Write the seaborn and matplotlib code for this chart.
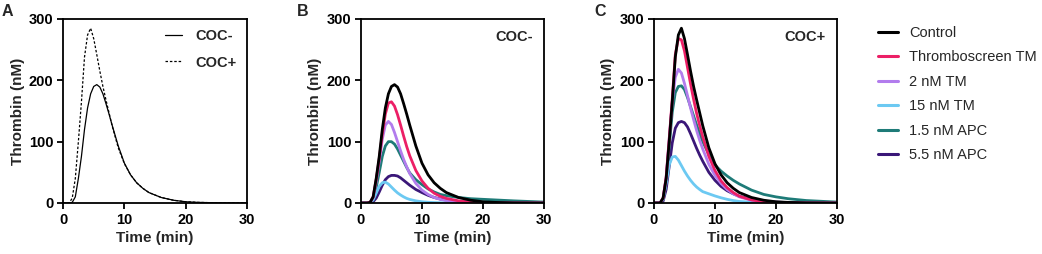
import matplotlib
matplotlib.use("Agg")
import matplotlib.pyplot as plt
import pandas as pd
import seaborn as sns
from matplotlib.lines import Line2D

# time points (min)
TIME = [0, 1, 1.5, 2, 2.5, 3, 3.5, 4, 4.5, 5, 5.5, 6, 6.5, 7, 7.5, 8,
        9, 10, 11, 12, 13, 14, 16, 18, 20, 22, 25, 30]

CONDITIONS = ["Control", "Thromboscreen TM", "2 nM TM", "15 nM TM",
              "1.5 nM APC", "5.5 nM APC"]
COLORS = ["#000000", "#ec1f66", "#b27ced", "#6cc9f2", "#1e7b78", "#3a1778"]

# COC- thrombin (nM)
COC_MINUS = {
    "Control": [0, 0, 1, 10, 40, 76, 120, 155, 178, 190, 193, 189, 178, 162, 145, 127,
                93, 65, 46, 33, 24, 17, 9, 4.5, 2, 1, 0.3, 0],
    "Thromboscreen TM": [0, 0, 1, 10, 38, 72, 112, 145, 163, 165, 158, 144, 127, 109, 92, 77,
                         53, 36, 24, 16, 11, 7.5, 3.5, 1.5, 0.7, 0.3, 0.1, 0],
    "2 nM TM": [0, 0, 1, 9, 35, 68, 104, 127, 133, 128, 115, 100, 85, 71, 59, 48,
                32, 21, 14, 9, 6, 4, 2, 1, 0.5, 0.2, 0, 0],
    "15 nM TM": [0, 0, 0.5, 5, 16, 27, 33, 34, 31, 26, 21, 16.5, 13, 10, 7.5, 5.8,
                 3.5, 2, 1.2, 0.7, 0.4, 0.2, 0, 0, 0, 0, 0, 0],
    "1.5 nM APC": [0, 0, 0.5, 6, 25, 50, 76, 93, 100, 100, 96, 88, 78, 68, 58, 49,
                   38, 30, 23, 18, 14, 12, 9, 7, 6, 5, 3.5, 1.5],
    "5.5 nM APC": [0, 0, 0, 2, 8, 18, 29, 38, 43, 45, 45, 44, 41, 37, 33, 29,
                   22, 17, 12.5, 9, 6.5, 4.5, 2.5, 1.3, 0.7, 0.3, 0.1, 0],
}

# COC+ thrombin (nM)
COC_PLUS = {
    "Control": [0, 0, 8, 40, 100, 165, 238, 274, 285, 268, 242, 215, 190, 168, 147, 126,
                90, 64, 46, 33, 24, 17, 9, 4.5, 2, 1, 0.3, 0],
    "Thromboscreen TM": [0, 0, 8, 42, 104, 170, 242, 268, 266, 248, 221, 194, 169, 146, 126, 108,
                         76, 53, 36, 25, 17, 11, 5, 2, 1, 0.4, 0.1, 0],
    "2 nM TM": [0, 0, 8, 42, 105, 165, 205, 218, 212, 195, 175, 155, 136, 118, 102, 88,
                63, 45, 32, 22, 15, 10, 4.5, 2, 0.8, 0.3, 0.1, 0],
    "15 nM TM": [0, 0, 6, 32, 62, 75, 76, 70, 61, 52, 44, 37, 31, 26, 22, 18.5,
                 15, 11.5, 8.5, 6, 4, 2.5, 1.2, 0.5, 0.2, 0, 0, 0],
    "1.5 nM APC": [0, 0, 6, 35, 92, 148, 180, 190, 191, 185, 172, 157, 142, 127, 113, 100,
                   79, 62, 52, 44, 37, 31, 21, 14, 10, 7, 4, 1.5],
    "5.5 nM APC": [0, 0, 3, 22, 60, 98, 122, 131, 133, 131, 124, 113, 101, 89, 78, 68,
                   50, 37, 27, 20, 15, 11, 6, 3, 1.5, 0.7, 0.2, 0],
}


def long_frame(curves: dict) -> pd.DataFrame:
    rows = []
    for name, values in curves.items():
        for t, v in zip(TIME, values):
            rows.append({"Time": t, "Thrombin": v, "Condition": name})
    return pd.DataFrame(rows)


def style_axes(ax) -> None:
    ax.set_xlim(0, 30)
    ax.set_ylim(0, 300)
    ax.set_xticks([0, 10, 20, 30])
    ax.set_yticks([0, 100, 200, 300])
    ax.set_xlabel("Time (min)", fontsize=11, fontweight="bold", labelpad=3)
    ax.set_ylabel("Thrombin (nM)", fontsize=11, fontweight="bold", labelpad=3)
    ax.tick_params(direction="out", length=4, width=1.3, labelsize=10.5, pad=3,
                   bottom=True, left=True, colors="black")
    for lab in ax.get_xticklabels() + ax.get_yticklabels():
        lab.set_fontweight("bold")
    for s in ax.spines.values():
        s.set_visible(True)
        s.set_linewidth(1.3)
        s.set_color("black")
    ax.grid(False)


def main() -> None:
    sns.set_theme(style="ticks")
    plt.rcParams["font.family"] = ["Liberation Sans", "DejaVu Sans"]

    fig = plt.figure(figsize=(10.42, 2.54), dpi=100)
    ax_a = fig.add_axes([0.0605, 0.2008, 0.1766, 0.7244])
    ax_b = fig.add_axes([0.3464, 0.2008, 0.1756, 0.7244])
    ax_c = fig.add_axes([0.6276, 0.2008, 0.1756, 0.7244])

    palette = dict(zip(CONDITIONS, COLORS))

    # Panel A: controls only
    ctrl = pd.DataFrame({
        "Time": TIME * 2,
        "Thrombin": COC_MINUS["Control"] + COC_PLUS["Control"],
        "Group": ["COC-"] * len(TIME) + ["COC+"] * len(TIME),
    })
    sns.lineplot(data=ctrl, x="Time", y="Thrombin", style="Group",
                 dashes={"COC-": "", "COC+": (2, 1.5)}, color="black",
                 linewidth=0.9, ax=ax_a, legend=False)
    handles = [Line2D([], [], color="black", lw=0.9),
               Line2D([], [], color="black", lw=0.9, dashes=(2, 1.5))]
    ax_a.legend(handles, ["COC-", "COC+"], loc="upper right", frameon=False,
                handlelength=1.15, handletextpad=0.95, labelspacing=0.85,
                prop={"weight": "bold", "size": 10.5}, borderaxespad=0.3)
    style_axes(ax_a)

    df_b = long_frame(COC_MINUS)
    df_c = long_frame(COC_PLUS)
    for ax, df, tag in [(ax_b, df_b, "COC-"), (ax_c, df_c, "COC+")]:
        sns.lineplot(data=df, x="Time", y="Thrombin", hue="Condition",
                     hue_order=CONDITIONS[::-1], palette=palette,
                     linewidth=2.0, ax=ax, legend=False)
        style_axes(ax)
        ax.text(0.94, 0.9, tag, transform=ax.transAxes, ha="right", va="center",
                fontsize=10.5, fontweight="bold")

    for x, label in [(0.002, "A"), (0.285, "B"), (0.570, "C")]:
        fig.text(x, 0.985, label, ha="left", va="top", fontsize=11.5,
                 fontweight="bold")

    leg_handles = [Line2D([], [], color=c, lw=2.2) for c in COLORS]
    fig.legend(leg_handles, CONDITIONS, loc="upper left",
               bbox_to_anchor=(0.8426, 0.898), frameon=False, fontsize=10.5,
               handlelength=1.35, handletextpad=0.8, labelspacing=0.72,
               borderpad=0, borderaxespad=0)

    fig.savefig("out.png", dpi=100)
    plt.close(fig)


if __name__ == "__main__":
    main()
